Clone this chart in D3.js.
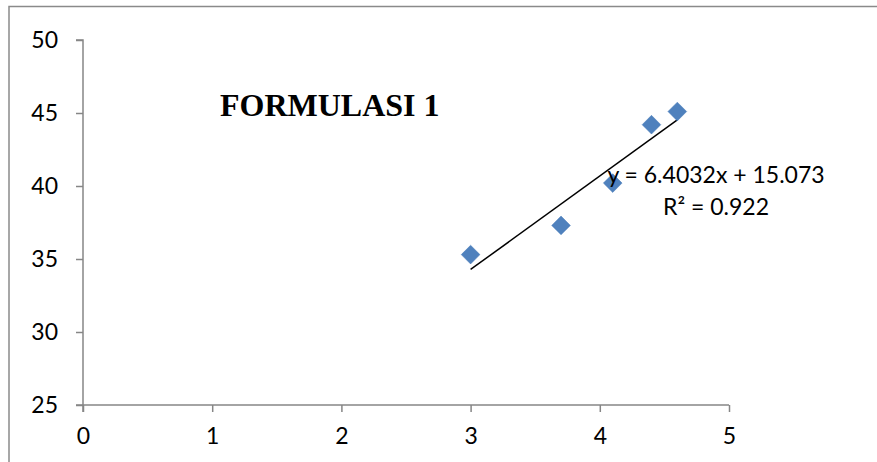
<!DOCTYPE html>
<html>
<head>
<meta charset="utf-8">
<script src="https://cdn.jsdelivr.net/npm/d3@7"></script>
<style>
  html, body { margin: 0; padding: 0; background: #fff; }
  svg { display: block; }
</style>
</head>
<body>
<svg id="chart" width="877" height="462"></svg>
<script>
// ---- data ----
const xValues = [3.0, 3.7, 4.1, 4.4, 4.6];
const yValues = [35.3, 37.3, 40.2, 44.2, 45.1];
const xTicks = [0, 1, 2, 3, 4, 5];
const yTicks = [25, 30, 35, 40, 45, 50];
const trendSlope = 6.4032;
const trendIntercept = 15.073;
const titleText = "FORMULASI 1";
const equationText = "y = 6.4032x + 15.073";
const r2Text = "R² = 0.922";

const svg = d3.select("#chart");
const font = "Lato, 'Open Sans', sans-serif";
const fs = "23px";

// outer frame (top + left visible)
svg.append("path")
  .attr("d", "M9,462V6.5H877")
  .attr("fill", "none").attr("stroke", "#8a8a8a").attr("stroke-width", 1.5);

const x = d3.scaleLinear().domain([0, 5]).range([83, 729]);
const y = d3.scaleLinear().domain([25, 50]).range([405, 40]);

const axisColor = "#868686";

// y axis
const yAxis = svg.append("g").attr("transform", `translate(${x(0)},0)`)
  .call(d3.axisLeft(y).tickValues(yTicks).tickSize(7).tickPadding(18).tickFormat(d3.format("d")));
// x axis
const xAxis = svg.append("g").attr("transform", `translate(0,${y(25)})`)
  .call(d3.axisBottom(x).tickValues(xTicks).tickSize(7).tickPadding(16).tickFormat(d3.format("d")));

[yAxis, xAxis].forEach(g => {
  g.select(".domain").attr("stroke", axisColor).attr("stroke-width", 1.5);
  g.selectAll(".tick line").attr("stroke", axisColor).attr("stroke-width", 1.5);
  g.selectAll(".tick text").attr("fill", "#000").style("font-family", font).style("font-size", fs);
});
// extend y axis slightly below the x axis like the reference
yAxis.select(".domain").attr("d", `M-7,${y(50)}H0V${y(25) + 7}`);
xAxis.select(".domain").attr("d", `M${x(0) - 7},0H${x(5)}`);

// trendline
const xMin = d3.min(xValues), xMax = d3.max(xValues);
svg.append("line")
  .attr("x1", x(xMin)).attr("y1", y(trendSlope * xMin + trendIntercept))
  .attr("x2", x(xMax)).attr("y2", y(trendSlope * xMax + trendIntercept))
  .attr("stroke", "#000").attr("stroke-width", 1.5);

// points (diamonds)
const sym = d3.symbol().type(d3.symbolSquare).size(175);
svg.append("g").selectAll("path")
  .data(xValues.map((v, i) => [v, yValues[i]]))
  .join("path")
  .attr("d", sym)
  .attr("transform", d => `translate(${x(d[0])},${y(d[1])}) rotate(45)`)
  .attr("fill", "#4F81BD")
  .attr("stroke", "#4A7EBB").attr("stroke-width", 0.5);

// title
svg.append("text")
  .attr("x", 220).attr("y", 116)
  .style("font-family", "'Liberation Serif', 'Times New Roman', serif")
  .style("font-weight", "bold").style("font-size", "32px")
  .text(titleText);

// equation
svg.append("text")
  .attr("x", 716).attr("y", 183).attr("text-anchor", "middle")
  .style("font-family", font).style("font-size", fs)
  .text(equationText);
svg.append("text")
  .attr("x", 716).attr("y", 215).attr("text-anchor", "middle")
  .style("font-family", font).style("font-size", fs)
  .text(r2Text);
</script>
</body>
</html>
